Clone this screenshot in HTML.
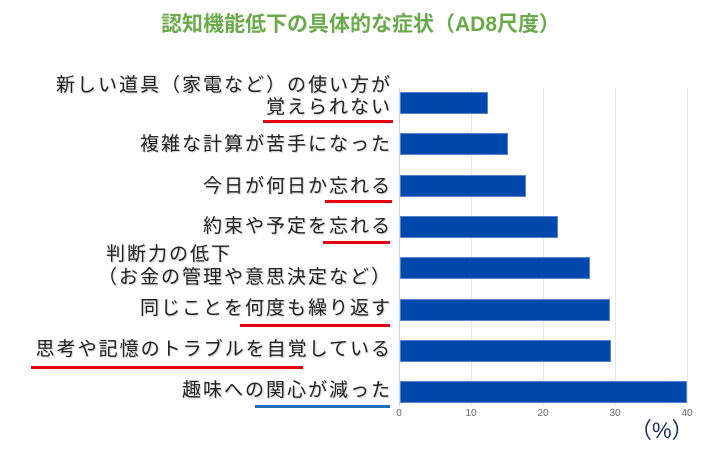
<!DOCTYPE html>
<html><head><meta charset="utf-8"><style>
body{margin:0;width:721px;height:450px;background:#fff;position:relative;overflow:hidden;font-family:"Liberation Sans","Noto Sans CJK JP",sans-serif}
.t{position:absolute;white-space:nowrap}
.l{position:absolute;font-size:19px;color:#222;white-space:nowrap;line-height:22px;letter-spacing:2px;text-shadow:1px 1px 1px #ccc}
.r{right:329px}
.u{position:absolute;height:3px;background:#e60012}
.g{position:absolute;top:88px;width:1px;height:318px;background:#e6e6e6}
.b{position:absolute;left:400px;height:22px;background:#0048ab;border:1px solid #5b84c8;box-sizing:border-box}
.k{position:absolute;top:408px;font-size:10px;color:#666;width:20px;text-align:center}
</style></head><body>
<div class="t" style="left:0;width:721px;text-align:center;top:8px;font-size:21px;font-weight:bold;color:#6aaa4a">認知機能低下の具体的な症状（AD8尺度）</div>
<div class="g" style="left:399px;background:#c8d4e8"></div>
<div class="g" style="left:471px"></div><div class="g" style="left:543px"></div><div class="g" style="left:615px"></div><div class="g" style="left:687px"></div>
<div class="b" style="top:92px;width:88px"></div>
<div class="b" style="top:133px;width:108px"></div>
<div class="b" style="top:175px;width:126px"></div>
<div class="b" style="top:216px;width:158px"></div>
<div class="b" style="top:257px;width:190px"></div>
<div class="b" style="top:299px;width:210px"></div>
<div class="b" style="top:340px;width:211px"></div>
<div class="b" style="top:381px;width:287px"></div>
<div class="k" style="left:389px">0</div><div class="k" style="left:461px">10</div><div class="k" style="left:533px">20</div><div class="k" style="left:605px">30</div><div class="k" style="left:677px">40</div>
<div class="t" style="left:630px;top:413px;font-size:22px;color:#1a2f5e">（%）</div>
<div class="l r" style="top:75px">新しい道具（家電など）の使い方が</div>
<div class="l r" style="top:97px">覚えられない</div>
<div class="u" style="left:263px;width:130px;top:120px"></div>
<div class="l r" style="top:134px">複雑な計算が苦手になった</div>
<div class="l r" style="top:176px">今日が何日か忘れる</div>
<div class="u" style="left:325px;width:67px;top:200px"></div>
<div class="l r" style="top:216px">約束や予定を忘れる</div>
<div class="u" style="left:323px;width:67px;top:241px"></div>
<div class="l" style="left:106px;top:244px">判断力の低下</div>
<div class="l r" style="top:267px">（お金の管理や意思決定など）</div>
<div class="l r" style="top:298px">同じことを何度も繰り返す</div>
<div class="u" style="left:240px;width:150px;top:324px"></div>
<div class="l r" style="top:339px">思考や記憶のトラブルを自覚している</div>
<div class="u" style="left:31px;width:272px;top:366px"></div>
<div class="l r" style="top:380px">趣味への関心が減った</div>
<div class="u" style="left:255px;width:135px;top:405px;background:#1f6fbf"></div>
</body></html>
